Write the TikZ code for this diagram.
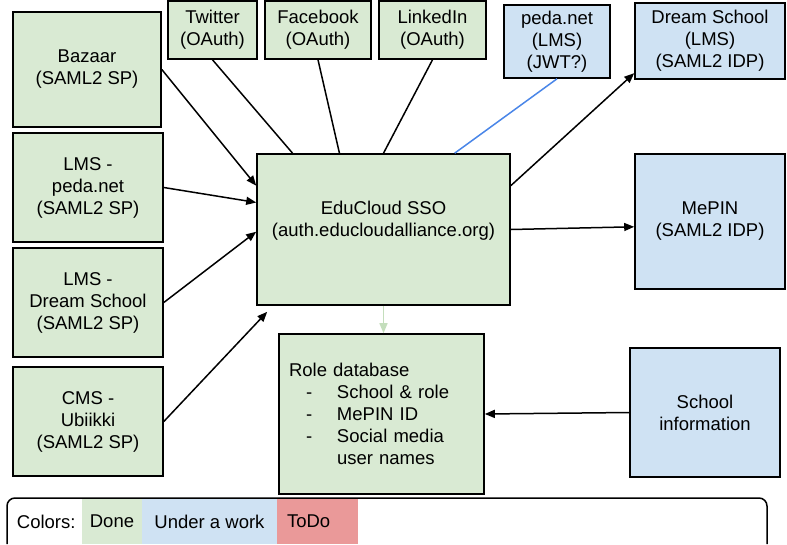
\documentclass[tikz,border=0pt]{standalone}
\usepackage{fontspec}
\setmainfont{Liberation Sans}
\usetikzlibrary{arrows.meta}

\definecolor{donegreen}{HTML}{D9EAD3}
\definecolor{workblue}{HTML}{CFE2F3}
\definecolor{todored}{HTML}{EA9999}
\definecolor{jwtblue}{HTML}{4A86E8}
\definecolor{paleline}{RGB}{196,222,188}

\newcommand{\rditem}[1]{\makebox[48pt][l]{\hspace{17pt}-}#1}

\begin{document}
\begin{tikzpicture}[x=1pt, y=-1pt, line width=1.5pt, >={Triangle[length=10pt,width=8pt]}]
\tikzstyle{done}=[draw, fill=donegreen, align=center, inner sep=0pt, line width=1.6pt, font=\fontsize{18.5pt}{22pt}\selectfont]
\tikzstyle{wip}=[done, fill=workblue]
\tikzstyle{legcell}=[draw=none, inner sep=0pt, minimum height=45pt, font=\fontsize{18.5pt}{22pt}\selectfont]
\useasboundingbox (0,0) rectangle (787,544);

% services on the left
\node[done, minimum width=148pt, minimum height=115pt] (Bazaar) at (87,69.5) {Bazaar\\(SAML2 SP)};
\node[done, minimum width=150pt, minimum height=109pt] (PedaSP) at (88,187.5) {LMS -\\peda.net\\(SAML2 SP)};
\node[done, minimum width=150pt, minimum height=109pt] (DreamSP) at (88,302.5) {LMS -\\Dream School\\(SAML2 SP)};
\node[done, minimum width=150pt, minimum height=109pt] (Ubiikki) at (88,421.5) {CMS -\\Ubiikki\\(SAML2 SP)};

% social logins on top
\node[done, minimum width=89pt, minimum height=58pt] (Twitter) at (212.5,30) {Twitter\\(OAuth)};
\node[done, minimum width=106pt, minimum height=58pt] (Facebook) at (318,30) {Facebook\\(OAuth)};
\node[done, minimum width=107pt, minimum height=58pt] (LinkedIn) at (432.5,30) {LinkedIn\\(OAuth)};
\node[wip, minimum width=106pt, minimum height=73pt] (PedaJWT) at (557,41.5) {peda.net\\(LMS)\\(JWT?)};
\node[wip, minimum width=150pt, minimum height=76pt] (DreamIDP) at (710,41) {Dream School\\(LMS)\\(SAML2 IDP)};

% core
\node[done, minimum width=253pt, minimum height=151pt, text depth=22pt] (Edu) at (383.5,229.5) {EduCloud SSO\\(auth.educloudalliance.org)};
\node[wip, minimum width=150pt, minimum height=135pt] (MePIN) at (710,221.5) {MePIN\\(SAML2 IDP)};
\node[done, minimum width=205pt, minimum height=160pt, text width=185pt, align=left] (RoleDB) at (381.5,414)
  {Role database\\ \rditem{School \& role}\\ \rditem{MePIN ID}\\ \rditem{Social media}\\ \hspace*{48pt}user names};
\node[wip, minimum width=150pt, minimum height=129pt] (SchoolInfo) at (705,412.5) {School\\information};

\draw[->] (Bazaar.east) -- (Edu.161);
\draw[->] (PedaSP.east) -- (Edu.168);
\draw[->] (DreamSP.east) -- (Edu.181);
\draw[->] (Ubiikki.east) -- ([xshift=11pt,yshift=-6pt]Edu.south west);
\draw (Twitter.south) -- (Edu.140);
\draw (Facebook.south) -- (Edu.120);
\draw (LinkedIn.south) -- (Edu.north);
\draw[jwtblue] (PedaJWT.south) -- (Edu.47);
\draw[->] (Edu.19) -- (DreamIDP.203);
\draw[->] (Edu.east) -- (MePIN.184);
\draw[->, paleline] (Edu.south) -- (Edu.south |- RoleDB.north);
\draw[->] (SchoolInfo.west) -- (RoleDB.east);

% legend
\node[legcell, fill=donegreen, minimum width=60pt] (LegDone) at (112,521.5) {Done};
\node[legcell, fill=workblue, minimum width=135pt] (LegWork) at (209.5,521.5) {Under a work};
\node[legcell, fill=todored, text width=61pt, inner xsep=10pt, align=left] (LegTodo) at (317.5,521.5) {ToDo};
\node[legcell, anchor=east, inner xsep=5pt] (LegColors) at (LegDone.west) {Colors:};
\draw (7,544) [rounded corners=8pt] -- (7,498) -- (767,498) [sharp corners] -- (767,544);
\end{tikzpicture}
\end{document}
